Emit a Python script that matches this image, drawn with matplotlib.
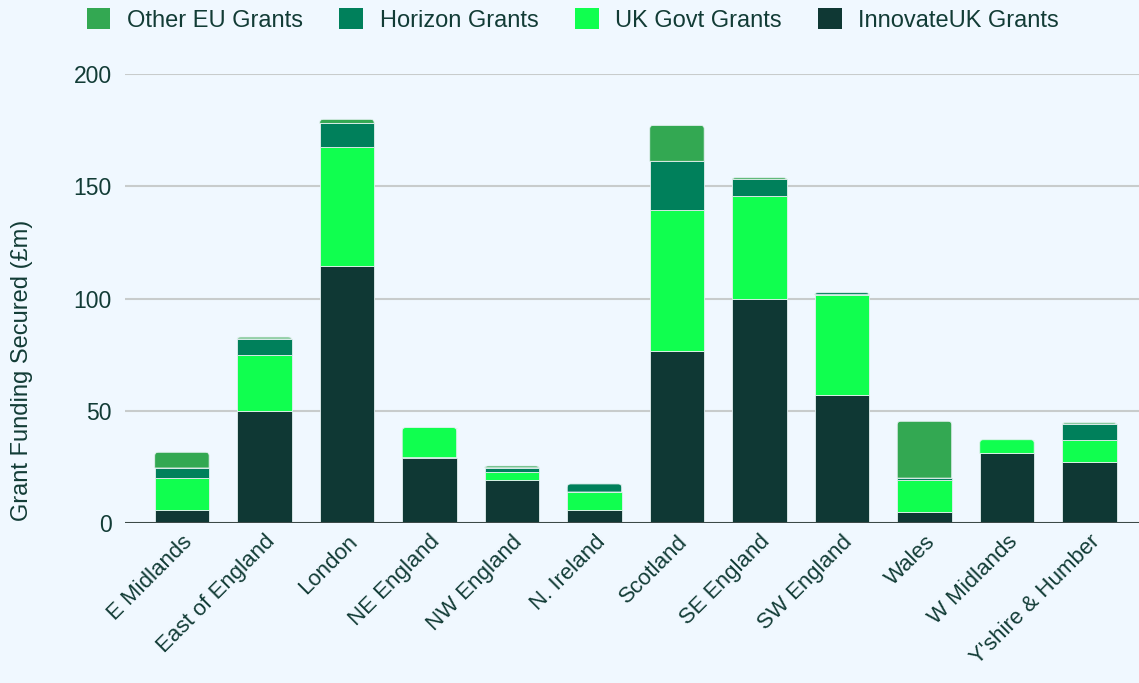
import matplotlib
matplotlib.use("Agg")
import matplotlib.pyplot as plt
from matplotlib.patches import PathPatch, Patch
from matplotlib.path import Path
import numpy as np

regions = ["E Midlands", "East of England", "London", "NE England", "NW England",
           "N. Ireland", "Scotland", "SE England", "SW England", "Wales",
           "W Midlands", "Y'shire & Humber"]

innovate_uk = [5.8, 49.9, 114.6, 29.1, 19.2, 5.8, 76.8, 99.8, 56.9, 4.8, 31.0, 27.3]
uk_govt     = [14.4, 24.9, 52.7, 13.4, 3.7, 8.0, 62.6, 46.0, 44.8, 14.4, 6.1, 9.8]
horizon     = [4.3, 7.2, 10.7, 0.0, 1.7, 3.6, 21.7, 7.3, 0.9, 0.8, 0.0, 7.0]
other_eu    = [7.0, 0.8, 1.8, 0.0, 0.8, 0.0, 16.0, 0.7, 0.0, 25.3, 0.0, 0.6]

series = [
    ("InnovateUK Grants", innovate_uk, "#0f3834"),
    ("UK Govt Grants", uk_govt, "#10ff4f"),
    ("Horizon Grants", horizon, "#00805b"),
    ("Other EU Grants", other_eu, "#33a852"),
]

bg = "#f0f8ff"
text_col = "#123c36"
edge_col = "#e4f0f0"
bar_w = 0.66

plt.rcParams["font.family"] = ["Liberation Sans", "DejaVu Sans"]

W, H = 1139, 683
fig = plt.figure(figsize=(W / 100, H / 100), dpi=100, facecolor=bg)
ax = fig.add_axes([125 / W, 1 - 523 / H, (W - 125) / W, 449 / H])
ax.set_facecolor(bg)

xlim = (-0.69, 11.6)
ylim = (0, 200)
ax.set_xlim(*xlim)
ax.set_ylim(*ylim)

# data units per pixel, used to round the top corners of each stack
x_per_px = (xlim[1] - xlim[0]) / (W - 125)
y_per_px = (ylim[1] - ylim[0]) / 449
radius_px = 3.5


def top_rounded(x0, y0, w, h, rx, ry):
    ry = min(ry, h)
    x1, y1 = x0 + w, y0 + h
    verts = [(x0, y0), (x1, y0), (x1, y1 - ry), (x1, y1), (x1 - rx, y1),
             (x0 + rx, y1), (x0, y1), (x0, y1 - ry), (x0, y0)]
    codes = [Path.MOVETO, Path.LINETO, Path.LINETO, Path.CURVE3, Path.CURVE3,
             Path.LINETO, Path.CURVE3, Path.CURVE3, Path.CLOSEPOLY]
    return Path(verts, codes)


x = np.arange(len(regions))
bottom = np.zeros(len(regions))
containers = []
for name, vals, col in series:
    vals = np.array(vals)
    b = ax.bar(x, vals, bar_w, bottom=bottom, color=col, edgecolor=edge_col,
               linewidth=0.6, zorder=3)
    containers.append((b, vals, bottom.copy(), col))
    bottom = bottom + vals

# the topmost segment of every stack gets rounded top corners
for i in range(len(regions)):
    for b, vals, bot, col in reversed(containers):
        if vals[i] > 0:
            b.patches[i].set_visible(False)
            path = top_rounded(x[i] - bar_w / 2, bot[i], bar_w, vals[i],
                               radius_px * x_per_px, radius_px * y_per_px)
            ax.add_patch(PathPatch(path, facecolor=col, edgecolor=edge_col,
                                   linewidth=0.6, zorder=3))
            break

ax.set_yticks([0, 50, 100, 150, 200])
ax.grid(axis="y", color="#c8cccc", linewidth=1.5, zorder=0)
ax.axhline(0, color="#3c4a48", linewidth=2.2, zorder=4)
for s in ax.spines.values():
    s.set_visible(False)
ax.tick_params(axis="y", length=0, pad=9.5, labelsize=16.5, labelcolor=text_col)
ax.tick_params(axis="x", length=0, pad=6, labelsize=16, labelcolor=text_col)
ax.set_xticks(x)
ax.set_xticklabels(regions, rotation=45, ha="right", rotation_mode="anchor")

ax.set_ylabel("Grant Funding Secured (£m)", fontsize=17, color=text_col)
ax.yaxis.set_label_coords(-0.0907, 0.34)

handles = [Patch(facecolor=col, edgecolor="none") for _, _, col in series][::-1]
labels = [s[0] for s in series][::-1]
leg = fig.legend(handles, labels, loc="center",
                 bbox_to_anchor=(0.503, 1 - 20 / H), ncol=4, frameon=False,
                 fontsize=17, handlelength=1.0, handleheight=1.0,
                 columnspacing=1.55, handletextpad=0.7)
for t in leg.get_texts():
    t.set_color(text_col)

fig.savefig("out.png", dpi=100, facecolor=bg)
